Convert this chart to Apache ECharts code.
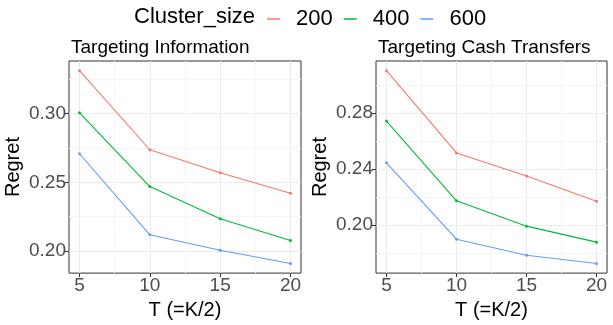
<!DOCTYPE html>
<html>
<head>
<meta charset="utf-8">
<script src="https://cdn.jsdelivr.net/npm/echarts@6/dist/echarts.min.js"></script>
<style>
  html, body { margin: 0; padding: 0; background: #fff; }
  #container { width: 613px; height: 325px; }
</style>
</head>
<body>
<div id="container"></div>
<script>
const dom = document.getElementById("container");
const myChart = echarts.init(dom);

// T values on the x axis
const tValues = [5, 10, 15, 20];
const clusterSizes = ['200', '400', '600'];
const colors = ['#F8766D', '#00BA38', '#619CFF'];

// Regret, Targeting Information
const info200 = [0.331, 0.2736, 0.2569, 0.2421];
const info400 = [0.3004, 0.2469, 0.2236, 0.2078];
const info600 = [0.2707, 0.2119, 0.2007, 0.1911];

// Regret, Targeting Cash Transfers
const cash200 = [0.3102, 0.2515, 0.2351, 0.2171];
const cash400 = [0.2742, 0.2174, 0.1993, 0.1879];
const cash600 = [0.2445, 0.1900, 0.1786, 0.1727];

const xTicks = [5, 10, 15, 20];
const xMinor = [7.5, 12.5, 17.5];
const infoTicks = [0.20, 0.25, 0.30];
const infoMinor = [0.225, 0.275, 0.325];
const cashTicks = [0.20, 0.24, 0.28];
const cashMinor = [0.18, 0.22, 0.26, 0.30];

const FONT = 'Liberation Sans';

// ggplot style 5% expansion
const expand = values => {
  const lo = Math.min(...values), hi = Math.max(...values);
  const pad = (hi - lo) * 0.05;
  return [lo - pad, hi + pad];
};

const xRange = expand(tValues);
const infoRange = expand([...info200, ...info400, ...info600]);
const cashRange = expand([...cash200, ...cash400, ...cash600]);

const mainX = gridIndex => ({
  type: 'value', gridIndex, min: xRange[0], max: xRange[1],
  name: 'T (=K/2)', nameLocation: 'middle', nameGap: 24,
  nameTextStyle: { fontFamily: FONT, fontSize: 20, color: '#000' },
  axisLine: { show: false },
  axisTick: { show: true, length: 4, customValues: xTicks, lineStyle: { color: '#333' } },
  axisLabel: { customValues: xTicks, fontFamily: FONT, fontSize: 19, color: '#4d4d4d', margin: 3 },
  splitLine: { show: true, lineStyle: { color: '#ebebeb', width: 1 } }
});

const minorX = gridIndex => ({
  type: 'value', gridIndex, min: xRange[0], max: xRange[1],
  axisLine: { show: false },
  axisTick: { show: false, customValues: xMinor },
  axisLabel: { show: false, customValues: xMinor },
  splitLine: { show: true, lineStyle: { color: '#f5f5f5', width: 1 } }
});

const mainY = (gridIndex, range, ticks) => ({
  type: 'value', gridIndex, min: range[0], max: range[1],
  name: 'Regret', nameLocation: 'middle', nameGap: 46, nameRotate: 90,
  nameTextStyle: { fontFamily: FONT, fontSize: 20, color: '#000' },
  axisLine: { show: false },
  axisTick: { show: true, length: 4, customValues: ticks, lineStyle: { color: '#333' } },
  axisLabel: {
    customValues: ticks, fontFamily: FONT, fontSize: 19, color: '#4d4d4d', margin: 3,
    formatter: v => v.toFixed(2)
  },
  splitLine: { show: true, lineStyle: { color: '#ebebeb', width: 1 } }
});

const minorY = (gridIndex, range, ticks) => ({
  type: 'value', gridIndex, min: range[0], max: range[1],
  axisLine: { show: false },
  axisTick: { show: false, customValues: ticks },
  axisLabel: { show: false, customValues: ticks },
  splitLine: { show: true, lineStyle: { color: '#f5f5f5', width: 1 } }
});

const makeSeries = (values, i, axisIndex) => ({
  name: clusterSizes[i],
  type: 'line',
  xAxisIndex: axisIndex,
  yAxisIndex: axisIndex,
  data: tValues.map((t, k) => [t, values[k]]),
  symbol: 'circle',
  symbolSize: 3,
  showSymbol: true,
  z: 5,
  itemStyle: { color: colors[i] },
  lineStyle: { color: colors[i], width: 1.1 },
  emphasis: { disabled: true }
});

const option = {
  animation: false,
  backgroundColor: '#fff',
  title: [
    { text: 'Cluster_size', left: 129, top: 1, textStyle: { fontFamily: FONT, fontSize: 22, fontWeight: 'normal', color: '#000' } },
    { text: 'Targeting Information', left: 66, top: 33, textStyle: { fontFamily: FONT, fontSize: 19, fontWeight: 'normal', color: '#000' } },
    { text: 'Targeting Cash Transfers', left: 373, top: 33, textStyle: { fontFamily: FONT, fontSize: 19, fontWeight: 'normal', color: '#000' } }
  ],
  legend: {
    data: clusterSizes.map(name => ({ name, icon: 'rect' })),
    left: 262,
    top: 3,
    itemWidth: 13,
    itemHeight: 1.5,
    itemGap: 11,
    textStyle: { fontFamily: FONT, fontSize: 22, color: '#000', padding: [0, 0, 0, 11] }
  },
  grid: [
    { left: 69, top: 61, width: 232, height: 214, show: true, borderColor: '#333', borderWidth: 1, backgroundColor: '#fff' },
    { left: 376, top: 61, width: 231, height: 214, show: true, borderColor: '#333', borderWidth: 1, backgroundColor: '#fff' }
  ],
  xAxis: [mainX(0), minorX(0), mainX(1), minorX(1)],
  yAxis: [
    mainY(0, infoRange, infoTicks), minorY(0, infoRange, infoMinor),
    mainY(1, cashRange, cashTicks), minorY(1, cashRange, cashMinor)
  ],
  series: [
    makeSeries(info200, 0, 0),
    makeSeries(info400, 1, 0),
    makeSeries(info600, 2, 0),
    makeSeries(cash200, 0, 2),
    makeSeries(cash400, 1, 2),
    makeSeries(cash600, 2, 2)
  ]
};

myChart.setOption(option);
</script>
</body>
</html>
